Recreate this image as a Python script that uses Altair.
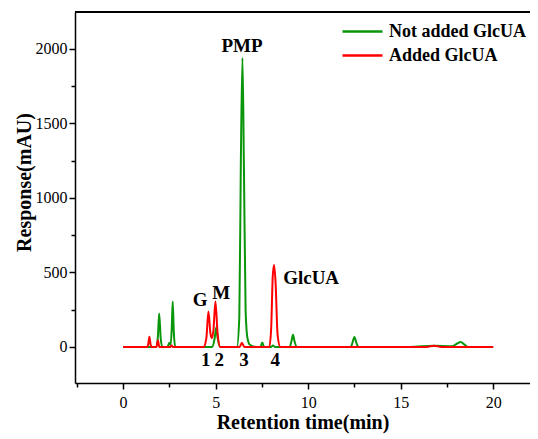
import altair as alt
import pandas as pd

# ---- chromatogram data (retention time in min, response in mAU) ----
green_t = [0, 1.8, 1.88, 1.95, 2.03, 2.12, 2.4, 2.5, 2.57, 2.63, 2.68, 2.74, 2.82,
           4.8, 4.95, 5.03, 5.11, 5.25, 6.15, 6.28, 6.36, 6.45, 6.53, 6.62, 6.72, 6.85, 7.2,
           7.42, 7.52, 7.62, 8.0, 8.1, 8.2, 9.0, 9.1, 9.18, 9.27, 9.4,
           12.3, 12.4, 12.5, 12.6, 12.72, 15.5, 16.8, 17.8, 18.08, 18.25, 18.45, 18.65, 20.0]
green_v = [0, 0, 70, 225, 60, 0, 0, 28, 15, 130, 305, 100, 0,
           0, 60, 130, 60, 0, 0, 200, 1200, 1940, 1200, 250, 60, 15, 0,
           0, 30, 0, 0, 10, 0, 0, 40, 82, 35, 0,
           0, 30, 67, 30, 0, 0, 8, 5, 25, 33, 15, 0, 0]

red_t = [0, 1.3, 1.36, 1.42, 1.48, 1.55, 1.8, 1.88, 1.96, 2.55, 2.62, 2.7,
         4.35, 4.5, 4.61, 4.72, 4.8, 4.88, 4.99, 5.1, 5.25, 6.3, 6.42, 6.55,
         7.9, 8.0, 8.09, 8.16, 8.24, 8.35, 8.5, 16.4, 16.8, 17.2, 20.0]
red_v = [0, 0, 20, 68, 20, 0, 0, 45, 0, 0, 10, 0,
         0, 60, 238, 90, 60, 110, 305, 100, 0, 0, 28, 0,
         0, 120, 480, 550, 430, 80, 0, 0, 8, 0, 0]

series_names = ["Not added GlcUA", "Added GlcUA"]
series_colors = ["#0a960a", "#ff0000"]

ann_text = ["PMP", "G", "M", "GlcUA", "1", "2", "3", "4"]
ann_x = [6.43, 4.16, 5.30, 10.16, 4.47, 5.19, 6.54, 8.22]
ann_y = [2020, 315, 362, 463, -87, -87, -87, -87]

x_ticks = [-2.5, 0, 2.5, 5, 7.5, 10, 12.5, 15, 17.5, 20]
y_ticks = [0, 250, 500, 750, 1000, 1250, 1500, 1750, 2000]

df = pd.concat([
    pd.DataFrame({"t": green_t, "v": green_v, "series": series_names[0], "o": 0}),
    pd.DataFrame({"t": red_t, "v": red_v, "series": series_names[1], "o": 1}),
], ignore_index=True)
ann = pd.DataFrame({"label": ann_text, "t": ann_x, "v": ann_y})

FONT = "Liberation Serif"
W, H = 455, 371
xs = alt.Scale(domain=[-2.6, 21.99], nice=False, zero=False)
ys = alt.Scale(domain=[-242, 2248], nice=False, zero=False)

style = dict(
    grid=False, domainColor="black", domainWidth=1.5, tickColor="black", tickWidth=1.5,
    labelFont=FONT, labelFontSize=16, labelColor="black",
    titleFont=FONT, titleFontSize=20, titleFontWeight="bold", titleColor="black",
)
x_axis = alt.Axis(
    values=x_ticks, title="Retention time(min)",
    labelExpr="datum.value % 5 === 0 ? datum.label : ''",
    tickSize={"condition": {"test": "datum.value % 5 === 0", "value": 6}, "value": 4},
    labelPadding=5, titlePadding=2, **style,
)
y_axis = alt.Axis(
    values=y_ticks, title="Response(mAU)", format="d",
    labelExpr="datum.value % 500 === 0 ? datum.label : ''",
    tickSize={"condition": {"test": "datum.value % 500 === 0", "value": 6}, "value": 4},
    labelPadding=2, titlePadding=1, titleY=170, **style,
)

lines = alt.Chart(df).mark_line(strokeWidth=2, interpolate="monotone").encode(
    x=alt.X("t:Q", scale=xs, axis=x_axis),
    y=alt.Y("v:Q", scale=ys, axis=y_axis),
    color=alt.Color("series:N",
                    scale=alt.Scale(domain=series_names, range=series_colors),
                    legend=alt.Legend(title=None, orient="none", legendX=266, legendY=10,
                                      symbolType="stroke", symbolSize=1600,
                                      symbolStrokeWidth=2.5, clipHeight=19,
                                      labelFont=FONT, labelFontSize=18,
                                      labelFontWeight="bold", labelColor="black",
                                      labelOffset=5, rowPadding=5, padding=0)),
    order="o:Q",
)

texts = alt.Chart(ann).mark_text(font=FONT, fontSize=19, fontWeight="bold",
                                 color="black", baseline="middle", align="center").encode(
    x=alt.X("t:Q", scale=xs, axis=x_axis),
    y=alt.Y("v:Q", scale=ys, axis=y_axis),
    text="label:N",
)

# top frame line of the plot area
top_line = alt.Chart(ann).mark_rule(color="black", strokeWidth=1.5).encode(
    x=alt.value(0), x2=alt.value(W), y=alt.value(0)
)

chart = alt.layer(lines, texts, top_line).properties(
    width=W, height=H,
    autosize=alt.AutoSizeParams(type="none"),
    padding={"left": 67, "top": 4, "right": 0, "bottom": 54},
).configure_view(stroke=None)

chart.save("out.html", embed_options={"renderer": "svg", "actions": False})
